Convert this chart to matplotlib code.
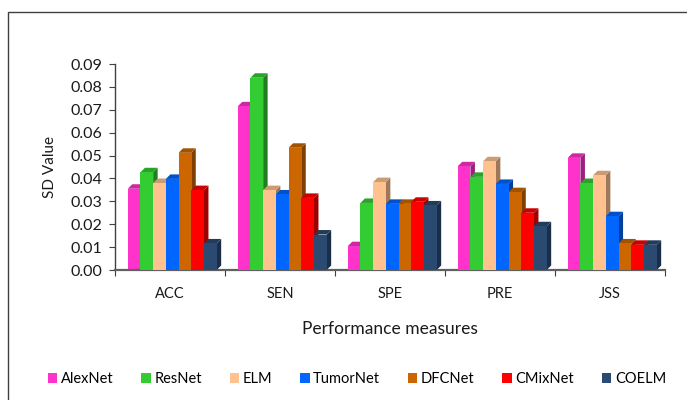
import matplotlib
matplotlib.use("Agg")
import matplotlib.pyplot as plt
from matplotlib.patches import Polygon, Rectangle
from matplotlib.colors import to_rgb
import numpy as np

plt.rcParams['font.family'] = ['Lato', 'DejaVu Sans']

categories = ["ACC", "SEN", "SPE", "PRE", "JSS"]
models = ["AlexNet", "ResNet", "ELM", "TumorNet", "DFCNet", "CMixNet", "COELM"]
alexnet  = [0.0355, 0.0715, 0.0104, 0.0453, 0.0490]
resnet   = [0.0427, 0.0840, 0.0293, 0.0407, 0.0380]
elm      = [0.0380, 0.0349, 0.0384, 0.0475, 0.0414]
tumornet = [0.0398, 0.0330, 0.0289, 0.0376, 0.0235]
dfcnet   = [0.0512, 0.0534, 0.0289, 0.0340, 0.0116]
cmixnet  = [0.0349, 0.0315, 0.0298, 0.0250, 0.0110]
coelm    = [0.0116, 0.0155, 0.0282, 0.0191, 0.0110]
series = [alexnet, resnet, elm, tumornet, dfcnet, cmixnet, coelm]
colors = ["#FF33CC", "#33CC33", "#FFC28E", "#0066FF", "#CC6600", "#FF0000", "#2B4A72"]
yticks = [0.00, 0.01, 0.02, 0.03, 0.04, 0.05, 0.06, 0.07, 0.08, 0.09]

W, H = 687, 400
fig = plt.figure(figsize=(W / 100, H / 100), dpi=100)

# outer frame (extends past the right and bottom edges)
fig.patches.append(Rectangle((8 / W, -0.1), 1.2, 1 - 12 / H + 0.1,
                             transform=fig.transFigure, fill=False,
                             edgecolor="#404040", lw=1.0, zorder=0))

ax = fig.add_axes([115 / W, 1 - 270 / H, 550 / W, 206 / H])
ax.set_xlim(0, len(categories))
ax.set_ylim(0, 0.09)

bw = 0.1155
dx = 4.5 / 110
dy = 4.5 / 206 * 0.09
group_w = bw * len(models)
start = 0.5 - group_w / 2 + 0.02


def shade(c, f):
    r, g, b = to_rgb(c)
    return (r * f, g * f, b * f)


z = 2
for ci in range(len(categories)):
    for si, vals in enumerate(series):
        h = vals[ci]
        x0 = ci + start + si * bw
        x1 = x0 + bw
        col = colors[si]
        # right side face
        ax.add_patch(Polygon([(x1, 0), (x1 + dx, dy), (x1 + dx, h + dy), (x1, h)],
                             closed=True, facecolor=shade(col, 0.62),
                             edgecolor="none", zorder=z, clip_on=False))
        # top face
        ax.add_patch(Polygon([(x0, h), (x0 + dx, h + dy), (x1 + dx, h + dy), (x1, h)],
                             closed=True, facecolor=shade(col, 0.8),
                             edgecolor="none", zorder=z, clip_on=False))
        # front face
        ax.bar(x0, h, width=bw, align="edge", color=col, zorder=z + 0.5,
               edgecolor="none")
        z += 1

for s in ["top", "right"]:
    ax.spines[s].set_visible(False)
ax.spines["left"].set_color("#404040")
ax.spines["bottom"].set_color("#606060")
ax.spines["bottom"].set_linewidth(1.6)
ax.spines["left"].set_linewidth(1.0)

ax.set_yticks(yticks)
ax.set_yticklabels([f"{v:.2f}" for v in yticks], fontsize=11.5, color="#1a1a1a")
ax.set_xticks(np.arange(len(categories) + 1))
ax.set_xticklabels([])
ax.set_xticks(np.arange(len(categories)) + 0.5, minor=True)
ax.set_xticklabels(categories, minor=True, fontsize=10.5, color="#1a1a1a")
ax.tick_params(axis="x", which="minor", length=0, pad=12)
ax.tick_params(axis="x", which="major", length=4, direction="out", color="#404040")
ax.tick_params(axis="y", length=4, direction="out", color="#404040", pad=5)

ax.set_ylabel("SD Value", fontsize=11, color="#1a1a1a", labelpad=10)
ax.set_xlabel("Performance measures", fontsize=12.5, color="#1a1a1a", labelpad=15)

handles = [Rectangle((0, 0), 1, 1, facecolor=c) for c in colors]
fig.legend(handles, models, loc="center", bbox_to_anchor=(357 / W, 1 - 379 / H),
           ncol=7, frameon=False, fontsize=10.5, handlelength=0.65,
           handleheight=0.65, handletextpad=0.25, columnspacing=1.9)

fig.savefig("out.png", dpi=100)
